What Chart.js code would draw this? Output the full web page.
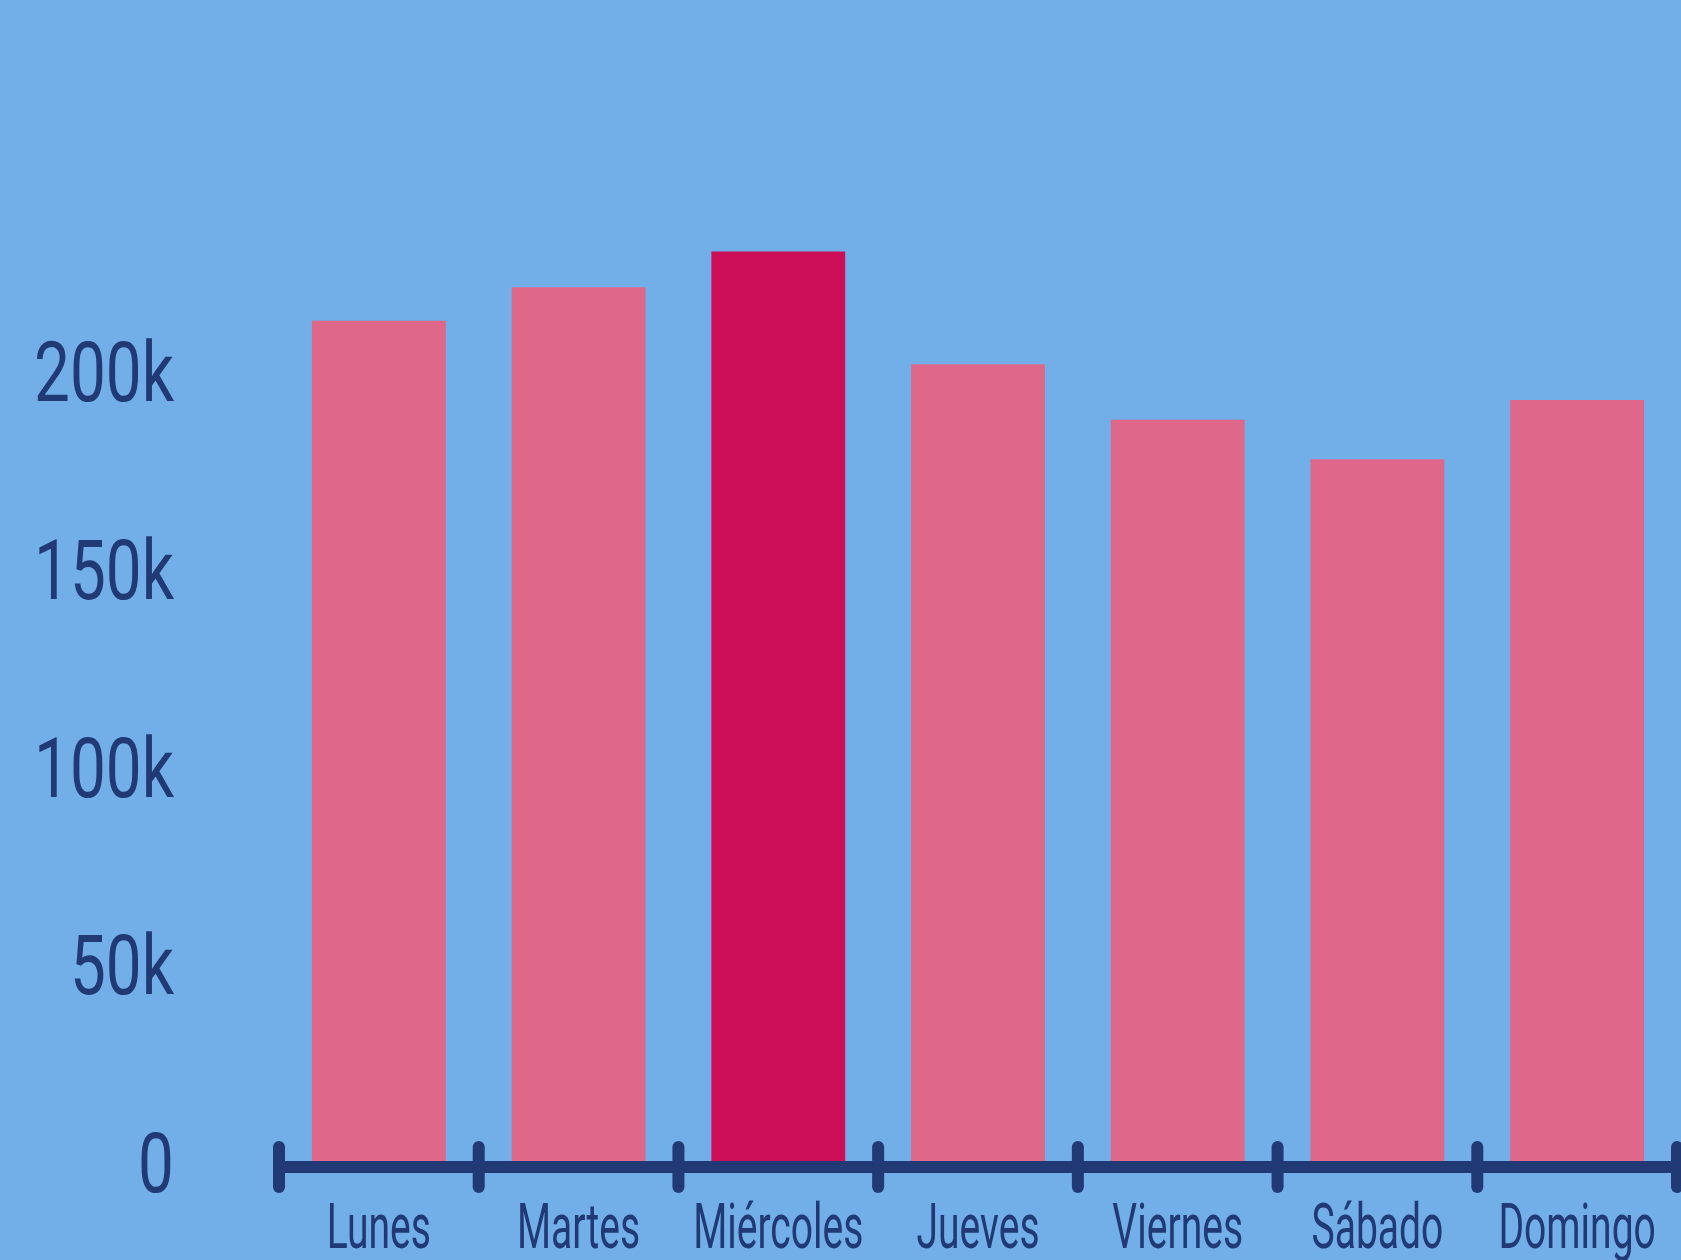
<!DOCTYPE html>
<html>
<head>
<meta charset="utf-8">
<script src="https://cdn.jsdelivr.net/npm/chart.js@4/dist/chart.umd.min.js"></script>
<style>
  html, body { margin: 0; padding: 0; background: #72AEE7; }
  canvas { display: block; }
</style>
</head>
<body>
<canvas id="c" width="1681" height="1260"></canvas>
<script>
// ---- data ----
const categories = ['Lunes', 'Martes', 'Miércoles', 'Jueves', 'Viernes', 'Sábado', 'Domingo'];
const values = [214000, 222500, 231500, 203000, 189000, 179000, 194000];
const highlightIndex = 2;
const yTickValues = [0, 50000, 100000, 150000, 200000];
const yTickLabels = ['0', '50k', '100k', '150k', '200k'];

// ---- styles ----
const BG = '#72AEE7';
const PINK = '#DF6789';
const HIGHLIGHT = '#CC0F57';
const NAVY = '#213A75';
const FONT = 'Roboto, "Liberation Sans", sans-serif';

function drawCondensed(ctx, text, x, y, align, sx) {
  ctx.save();
  ctx.translate(x, y);
  ctx.scale(sx, 1);
  ctx.textAlign = align;
  ctx.textBaseline = 'alphabetic';
  ctx.fillText(text, 0, 0);
  ctx.restore();
}

const decor = {
  id: 'decor',
  beforeDraw(chart) {
    const ctx = chart.ctx;
    ctx.save();
    ctx.fillStyle = BG;
    ctx.fillRect(0, 0, chart.width, chart.height);
    ctx.restore();
  },
  afterDatasetsDraw(chart) {
    const { ctx, scales: { x, y }, chartArea } = chart;
    const y0 = y.getPixelForValue(0);
    const n = categories.length;
    const half = (x.getPixelForTick(1) - x.getPixelForTick(0)) / 2;
    const first = x.getPixelForTick(0) - half;
    const last = x.getPixelForTick(n - 1) + half;

    ctx.save();
    ctx.strokeStyle = NAVY;
    ctx.lineWidth = 12;
    ctx.lineCap = 'butt';
    ctx.beginPath();
    ctx.moveTo(first, y0);
    ctx.lineTo(last, y0);
    ctx.stroke();

    ctx.lineCap = 'round';
    for (let i = 0; i <= n; i++) {
      const px = i < n ? x.getPixelForTick(i) - half : last;
      ctx.beginPath();
      ctx.moveTo(px, y0 - 20);
      ctx.lineTo(px, y0 + 20);
      ctx.stroke();
    }

    // x labels
    ctx.fillStyle = NAVY;
    ctx.font = '400 63px ' + FONT;
    for (let i = 0; i < n; i++) {
      drawCondensed(ctx, categories[i], x.getPixelForTick(i), y0 + 81, 'center', 0.62);
    }

    // y labels
    ctx.font = '400 84px ' + FONT;
    y.ticks.forEach((t) => {
      const idx = yTickValues.indexOf(t.value);
      if (idx < 0) return;
      const py = y.getPixelForValue(t.value);
      drawCondensed(ctx, yTickLabels[idx], chartArea.left - 105, py + 25, 'right', 0.76);
    });
    ctx.restore();
  }
};

new Chart(document.getElementById('c'), {
  type: 'bar',
  data: {
    labels: categories,
    datasets: [{
      data: values,
      backgroundColor: values.map((v, i) => i === highlightIndex ? HIGHLIGHT : PINK),
      borderWidth: 0,
      categoryPercentage: 1.0,
      barPercentage: 0.67
    }]
  },
  options: {
    responsive: false,
    animation: false,
    devicePixelRatio: 1,
    layout: { padding: { left: 279, right: 4, top: 218, bottom: 93 } },
    plugins: { legend: { display: false }, tooltip: { enabled: false } },
    scales: {
      x: {
        display: false,
        offset: true,
        grid: { display: false }
      },
      y: {
        display: false,
        min: 0,
        max: 240000,
        afterBuildTicks(scale) {
          scale.ticks = yTickValues.map(v => ({ value: v }));
        },
        grid: { display: false }
      }
    }
  },
  plugins: [decor]
});
</script>
</body>
</html>
